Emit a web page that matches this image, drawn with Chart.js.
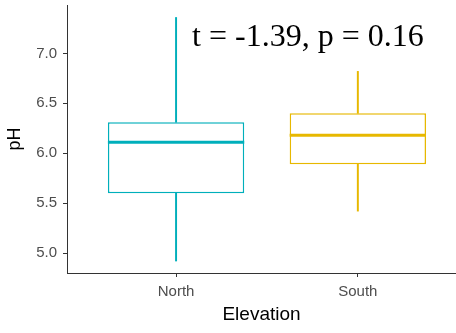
<!DOCTYPE html>
<html>
<head>
<meta charset="utf-8">
<script src="https://cdn.jsdelivr.net/npm/chart.js@4/dist/chart.umd.min.js"></script>
<style>
  html, body { margin: 0; padding: 0; background: #ffffff; overflow: hidden; }
  #wrap { width: 456px; height: 333px; }
</style>
</head>
<body>
<div id="wrap"><canvas id="chart" width="456" height="333"></canvas></div>
<script>
// pH by elevation: five-number summaries per group
const categories  = ['North', 'South'];
const whiskerLow  = [4.92, 5.42];
const q1          = [5.60, 5.89];
const medians     = [6.11, 6.18];
const q3          = [6.31, 6.40];
const whiskerHigh = [7.36, 6.82];
const yTicks      = [5.0, 5.5, 6.0, 6.5, 7.0];
const groupColors = ['#00AFBB', '#E7B800'];
const statText    = 't = -1.39, p = 0.16';

const idx = categories.map((_, i) => i);

// Medians and the test statistic, drawn on top of the floating-bar boxes
const boxExtras = {
  id: 'boxExtras',
  afterDatasetsDraw(chart) {
    const { ctx, scales: { x, y } } = chart;
    const boxMeta = chart.getDatasetMeta(0);
    ctx.save();
    idx.forEach(i => {
      const cx = x.getPixelForValue(i);
      const half = boxMeta.data[i].width / 2;
      ctx.strokeStyle = groupColors[i];
      ctx.lineWidth = 3;
      ctx.beginPath();
      const ym = y.getPixelForValue(medians[i]);
      ctx.moveTo(cx - half, ym);
      ctx.lineTo(cx + half, ym);
      ctx.stroke();
    });
    ctx.fillStyle = '#000000';
    ctx.font = '32px "Liberation Serif", "Times New Roman", serif';
    ctx.textAlign = 'center';
    ctx.textBaseline = 'middle';
    ctx.fillText(statText, x.getPixelForValue(0.725), y.getPixelForValue(7.16));
    ctx.restore();
  }
};

const whiskerDataset = (lo, hi) => ({
  type: 'bar',
  data: idx.map(i => ({ x: i, y: [lo[i], hi[i]] })),
  backgroundColor: groupColors,
  borderWidth: 0,
  barThickness: 1.3,
  grouped: false,
  order: 2
});

// keep the plot area flush with the layout padding
const noEdgePadding = s => { s.paddingTop = 0; s.paddingBottom = 0; s.paddingLeft = 0; s.paddingRight = 0; };

new Chart(document.getElementById('chart'), {
  type: 'bar',
  data: {
    datasets: [
      {
        data: idx.map(i => ({ x: i, y: [q1[i], q3[i]] })),
        backgroundColor: '#ffffff',
        borderColor: groupColors,
        borderWidth: 1.5,
        borderSkipped: false,
        categoryPercentage: 1,
        barPercentage: 0.75,
        grouped: false,
        order: 1
      },
      whiskerDataset(whiskerLow, q1),
      whiskerDataset(q3, whiskerHigh)
    ]
  },
  options: {
    responsive: false,
    animation: false,
    devicePixelRatio: 1,
    layout: { padding: { top: 5, right: 0, left: 0, bottom: 0 } },
    plugins: { legend: { display: false }, tooltip: { enabled: false } },
    scales: {
      x: {
        type: 'linear',
        offset: false,
        min: -0.6,
        max: 1.54,
        afterBuildTicks: s => { s.ticks = idx.map(v => ({ value: v })); },
        afterFit: s => { s.height = 60; noEdgePadding(s); },
        ticks: {
          callback: v => categories[v],
          color: '#4D4D4D',
          padding: 6,
          font: { family: '"Liberation Sans", Arial, sans-serif', size: 15 }
        },
        grid: { display: true, offset: false, drawOnChartArea: false, drawTicks: true, tickLength: 4, color: '#333333' },
        border: { display: true, color: '#333333', width: 1 },
        title: {
          display: true,
          text: 'Elevation',
          color: '#000000',
          padding: { top: 0, bottom: 7 },
          font: { family: '"Liberation Sans", Arial, sans-serif', size: 19 }
        }
      },
      y: {
        type: 'linear',
        min: 4.8,
        max: 7.485,
        afterBuildTicks: s => { s.ticks = yTicks.map(v => ({ value: v })); },
        afterFit: s => { s.width = 67; noEdgePadding(s); },
        ticks: {
          callback: v => v.toFixed(1),
          color: '#4D4D4D',
          padding: 6,
          font: { family: '"Liberation Sans", Arial, sans-serif', size: 15 }
        },
        grid: { display: true, drawOnChartArea: false, drawTicks: true, tickLength: 4, color: '#333333' },
        border: { display: true, color: '#333333', width: 1 },
        title: {
          display: true,
          text: 'pH',
          color: '#000000',
          padding: { top: 4, bottom: 0 },
          font: { family: '"Liberation Sans", Arial, sans-serif', size: 18 }
        }
      }
    }
  },
  plugins: [boxExtras]
});
</script>
</body>
</html>
